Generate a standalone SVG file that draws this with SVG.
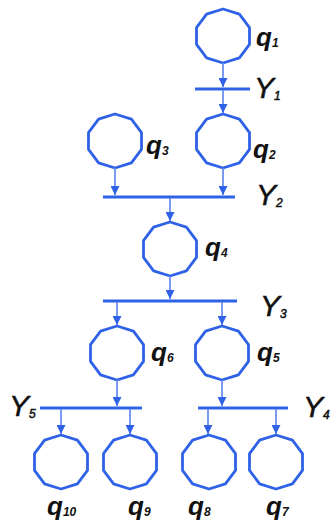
<svg xmlns="http://www.w3.org/2000/svg" width="334" height="526" viewBox="0 0 334 526">
<style>
.n{fill:none;stroke:#2f62e6;stroke-width:2.8;stroke-linejoin:round}
.bar{stroke:#2f62e6;stroke-width:3;fill:none}
.c line{stroke:#6a8ff0;stroke-width:1.8;marker-end:url(#ah)}
.q{font-family:"Liberation Sans",Arial,sans-serif;font-style:italic;font-weight:bold;font-size:26px;fill:#111}
.y{font-family:"Liberation Sans",Arial,sans-serif;font-style:italic;font-size:30px;fill:#111;stroke:#111;stroke-width:0.5}
.s{font-size:12px}
</style>
<defs>
<polygon id="dec" points="0,-27 16.4,-21.8 26.5,-8.3 26.5,8.3 16.4,21.8 0,27 -16.4,21.8 -26.5,8.3 -26.5,-8.3 -16.4,-21.8"/>
<marker id="ah" viewBox="0 0 10 10" refX="10" refY="5" markerWidth="10" markerHeight="9" markerUnits="userSpaceOnUse" orient="auto">
<path d="M0,0 L10,5 L0,10 Z" fill="#2f62e6"/>
</marker>
</defs>
<g id="nodes">
<g id="q1"><use href="#dec" class="n" x="223" y="36"/><text class="q" x="256" y="46">q<tspan class="s" dy="1">1</tspan></text></g>
<g id="q2"><use href="#dec" class="n" x="223" y="141"/><text class="q" x="253" y="158">q<tspan class="s" dy="1">2</tspan></text></g>
<g id="q3"><use href="#dec" class="n" x="115" y="141"/><text class="q" x="146" y="154">q<tspan class="s" dy="1">3</tspan></text></g>
<g id="q4"><use href="#dec" class="n" x="170" y="249"/><text class="q" x="205" y="256">q<tspan class="s" dy="1">4</tspan></text></g>
<g id="q6"><use href="#dec" class="n" x="117" y="353"/><text class="q" x="151" y="361">q<tspan class="s" dy="1">6</tspan></text></g>
<g id="q5"><use href="#dec" class="n" x="222" y="353"/><text class="q" x="257" y="361">q<tspan class="s" dy="1">5</tspan></text></g>
<g id="q10"><use href="#dec" class="n" x="61" y="462"/><text class="q" x="47" y="515">q<tspan class="s" dy="1">10</tspan></text></g>
<g id="q9"><use href="#dec" class="n" x="130" y="462"/><text class="q" x="128" y="515">q<tspan class="s" dy="1">9</tspan></text></g>
<g id="q8"><use href="#dec" class="n" x="209" y="462"/><text class="q" x="188" y="515">q<tspan class="s" dy="1">8</tspan></text></g>
<g id="q7"><use href="#dec" class="n" x="276" y="462"/><text class="q" x="266" y="515">q<tspan class="s" dy="1">7</tspan></text></g>
<g id="Y1"><line class="bar" x1="195" y1="89" x2="250" y2="89"/><text class="y" x="254" y="98">Y<tspan class="s" dy="2">1</tspan></text></g>
<g id="Y2"><line class="bar" x1="103" y1="197" x2="235" y2="197"/><text class="y" x="256" y="205">Y<tspan class="s" dy="2">2</tspan></text></g>
<g id="Y3"><line class="bar" x1="103" y1="301" x2="237" y2="301"/><text class="y" x="260" y="316">Y<tspan class="s" dy="2">3</tspan></text></g>
<g id="Y5"><line class="bar" x1="40" y1="408" x2="142" y2="408"/><text class="y" x="9" y="416">Y<tspan class="s" dy="2">5</tspan></text></g>
<g id="Y4"><line class="bar" x1="198" y1="408" x2="288" y2="408"/><text class="y" x="303" y="417">Y<tspan class="s" dy="2">4</tspan></text></g>
</g>
<g id="connectors" class="c">
<line x1="223" y1="63" x2="223" y2="87"/>
<line x1="223" y1="90" x2="223" y2="113"/>
<line x1="115" y1="168" x2="115" y2="195"/>
<line x1="223" y1="168" x2="223" y2="195"/>
<line x1="170" y1="198" x2="170" y2="221"/>
<line x1="170" y1="276" x2="170" y2="299"/>
<line x1="117" y1="302" x2="117" y2="325"/>
<line x1="222" y1="302" x2="222" y2="325"/>
<line x1="117" y1="380" x2="117" y2="406"/>
<line x1="222" y1="380" x2="222" y2="406"/>
<line x1="61" y1="409" x2="61" y2="434"/>
<line x1="130" y1="409" x2="130" y2="434"/>
<line x1="208" y1="409" x2="208" y2="434"/>
<line x1="276" y1="409" x2="276" y2="434"/>
</g>
</svg>
